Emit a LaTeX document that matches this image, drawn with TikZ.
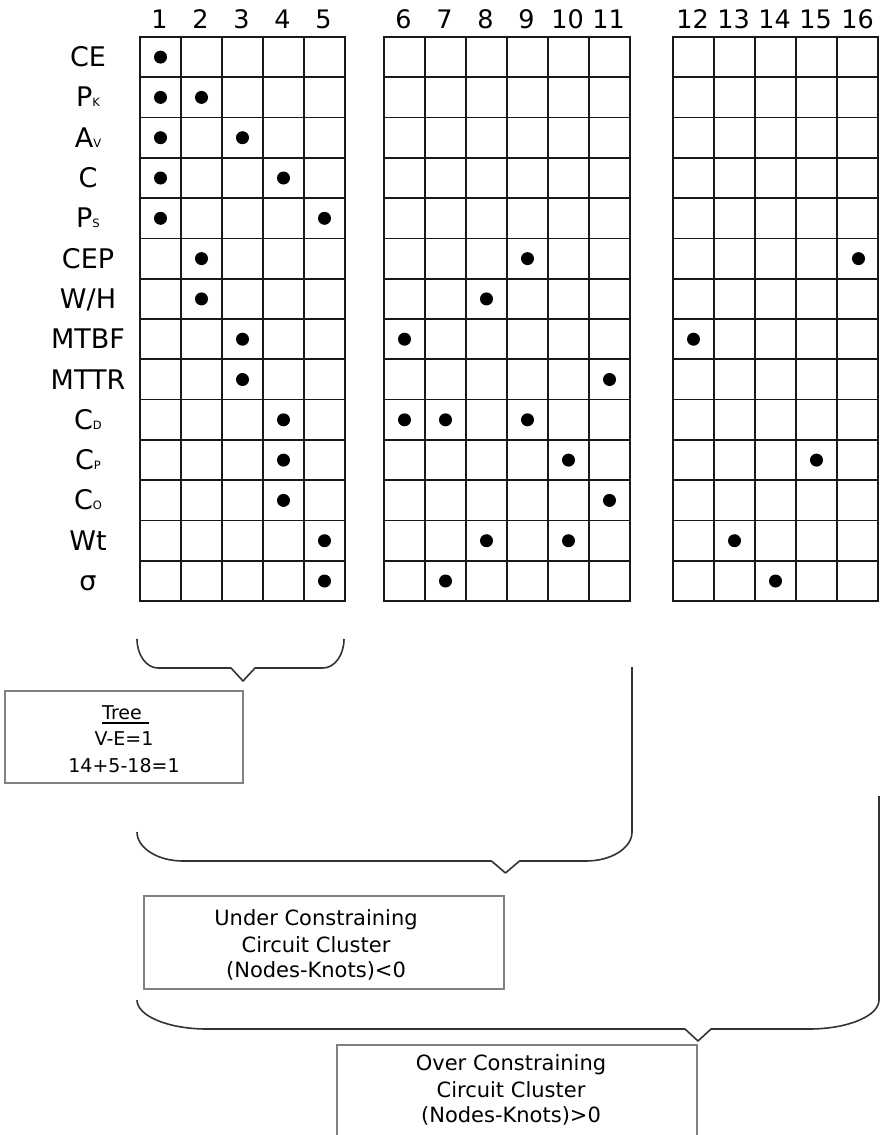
\documentclass[tikz,border=0pt]{standalone}
\usepackage{fontspec}
\setmainfont{DejaVu Sans}
\newcommand\lowsub[1]{{\fontsize{11.5}{12}\selectfont #1}}
\begin{document}
\begin{tikzpicture}[x=1pt,y=-1pt,
  gridline/.style={line width=1.8pt, draw=black!90, line cap=rect},
  dot/.style={circle, fill=black, inner sep=0pt, minimum size=13pt},
  lab/.style={font=\fontsize{27}{30}\selectfont, inner sep=0pt, anchor=base},
  num/.style={font=\fontsize{25.5}{30}\selectfont, inner sep=0pt, anchor=base},
  boxtxt/.style={font=\fontsize{19}{23}\selectfont, inner sep=0pt, anchor=base},
  bigboxtxt/.style={font=\fontsize{21}{25}\selectfont, inner sep=0pt, anchor=base},
  box/.style={draw=black!50, line width=1.4pt, inner sep=0pt},
  brace/.style={draw=black!80, line width=1.6pt, line join=round}]
\useasboundingbox[fill=white] (0,0) rectangle (883,1135);

% column centres (at the baseline of the column numbers)
\foreach \c/\x in {1/159.5,2/200.5,3/241.5,4/282.5,5/323.5,
                   6/403.5,7/444.5,8/485.5,9/526.5,10/567.5,11/608.5,
                   12/692.5,13/733.5,14/774.5,15/815.5,16/857.5}
  \coordinate (c\c) at (\x,28);
% row centres
\foreach \r/\y in {1/57.1,2/97.4,3/137.7,4/178.0,5/218.3,6/258.6,7/298.9,
                   8/339.2,9/379.5,10/419.8,11/460.1,12/500.4,13/540.7,14/581.0}
  \coordinate (r\r) at (88,\y);

% grids
\foreach \i in {0,...,5} \draw[gridline] ({140+41*\i},37) -- ({140+41*\i},601);
\foreach \j in {0,...,14} \draw[gridline] (140,{37+40.286*\j}) -- (345,{37+40.286*\j});
\foreach \i in {0,...,6} \draw[gridline] ({384+41*\i},37) -- ({384+41*\i},601);
\foreach \j in {0,...,14} \draw[gridline] (384,{37+40.286*\j}) -- (630,{37+40.286*\j});
\foreach \i in {0,...,5} \draw[gridline] ({673+41*\i},37) -- ({673+41*\i},601);
\foreach \j in {0,...,14} \draw[gridline] (673,{37+40.286*\j}) -- (878,{37+40.286*\j});

% column numbers
\foreach \c in {1,...,16} \node[num] (n\c) at (c\c) {\c};

% row labels
\foreach \r/\t in {1/CE, 2/P\lowsub{K}, 3/A\lowsub{V}, 4/C, 5/P\lowsub{S}, 6/CEP,
                   7/{W/H}, 8/MTBF, 9/MTTR, 10/C\lowsub{D}, 11/C\lowsub{P},
                   12/C\lowsub{O}, 13/Wt, 14/σ}
  \node[lab] (l\r) at ([yshift=-9.5pt]r\r) {\t};

% dots
\foreach \r/\c in {1/1, 2/1, 2/2, 3/1, 3/3, 4/1, 4/4, 5/1, 5/5,
                   6/2, 6/9, 6/16, 7/2, 7/8, 8/3, 8/6, 8/12, 9/3, 9/11,
                   10/4, 10/6, 10/7, 10/9, 11/4, 11/10, 11/15, 12/4, 12/11,
                   13/5, 13/8, 13/10, 13/13, 14/5, 14/7, 14/14}
  \node[dot] (d\r-\c) at ([xshift=1pt]c\c |- r\r) {};

% brace 1 (columns 1-5)
\draw[brace] (137,639) .. controls (137,655) and (146.4,668) .. (158,668)
  -- (231,668) -- (243,681) -- (255,668) -- (323,668)
  .. controls (334.6,668) and (344,655) .. (344,639);
% brace 2 (columns 1-11)
\draw[brace] (137,832) .. controls (137,848) and (157.6,861) .. (183,861)
  -- (491.5,861) -- (505.5,873) -- (519.5,861) -- (586,861)
  .. controls (611.4,861) and (632,848) .. (632,832) -- (632,667);
% brace 3 (columns 1-16)
\draw[brace] (137,1000) .. controls (137,1016) and (168.3,1029) .. (207,1029)
  -- (685,1029) -- (698,1041) -- (711,1029) -- (809,1029)
  .. controls (847.7,1029) and (879,1016) .. (879,1000) -- (879,796);

% Tree box
\node[box, minimum width=238pt, minimum height=92pt] (treebox) at (124,737) {};
\node[boxtxt] (tree) at (122,719) {Tree};
\draw[line width=1.2pt] ([yshift=-4pt]tree.base west) -- ([xshift=7pt,yshift=-4pt]tree.base east);
\node[boxtxt] (tree2) at (124,745) {V-E=1};
\node[boxtxt] (tree3) at (124,772) {14+5-18=1};

% Under constraining box
\node[box, minimum width=360pt, minimum height=93pt] (underbox) at (324,942.5) {};
\node[bigboxtxt] (under1) at (316,925) {Under Constraining};
\node[bigboxtxt] (under2) at (316,952) {Circuit Cluster};
\node[bigboxtxt] (under3) at (316,977) {(Nodes-Knots)<0};

% Over constraining box (runs off the bottom)
\draw[box] (337,1136) -- (337,1045) -- (697,1045) -- (697,1136);
\node[bigboxtxt] (over1) at (511,1070) {Over Constraining};
\node[bigboxtxt] (over2) at (511,1097) {Circuit Cluster};
\node[bigboxtxt] (over3) at (511,1122) {(Nodes-Knots)>0};
\end{tikzpicture}
\end{document}
